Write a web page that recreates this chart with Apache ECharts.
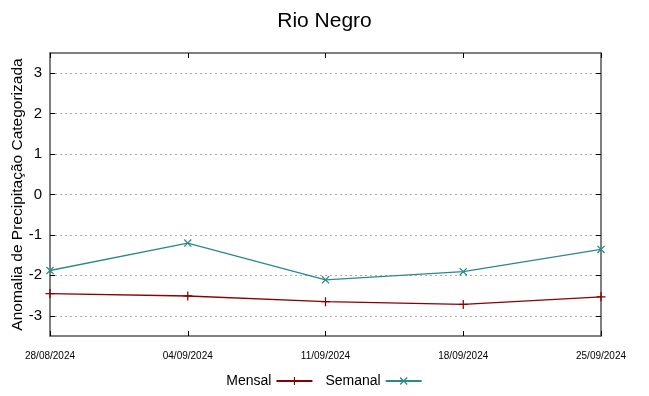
<!DOCTYPE html>
<html><head><meta charset="utf-8">
<script src="https://cdn.jsdelivr.net/npm/echarts@6/dist/echarts.min.js"></script>
<style>html,body{margin:0;padding:0;background:#fff}#c{width:649px;height:396px}</style>
</head><body><div id="c"></div>
<script>
const categories = ['28/08/2024','04/09/2024','11/09/2024','18/09/2024','25/09/2024'];
const mensal = [-2.45, -2.51, -2.65, -2.72, -2.53];
const semanal = [-1.88, -1.20, -2.11, -1.91, -1.36];
const yTicks = [-3,-2,-1,0,1,2,3];

const plusPath = 'path://M4.3,0H5.7V10H4.3Z M0,4.3H10V5.7H0Z';
const xPath = 'path://M0.5,1.5L1.5,0.5L9.5,8.5L8.5,9.5Z M8.5,0.5L9.5,1.5L1.5,9.5L0.5,8.5Z';
const font = 'Liberation Sans, Arial, sans-serif';
const axisCol = '#555';

const yBase = {type:'value', min:-3.5, max:3.5, interval:0.5};
const chart = echarts.init(document.getElementById('c'), null, {renderer:'canvas'});
chart.setOption({
  animation:false,
  backgroundColor:'#fff',
  title:{text:'Rio Negro', left:'center', top:6, textStyle:{fontFamily:font, fontSize:21, fontWeight:'normal', color:'#000'}},
  grid:{left:50, right:48, top:53, bottom:60, show:false, outerBoundsMode:'none', containLabel:false},
  legend:{bottom:3, left:'center', align:'right', itemWidth:36, itemHeight:10, itemGap:12,
    textStyle:{fontFamily:font, fontSize:14, color:'#000'},
    data:[{name:'Mensal'},{name:'Semanal'}]},
  xAxis:[{type:'category', data:categories, boundaryGap:false, position:'bottom',
    axisLine:{onZero:false, lineStyle:{color:axisCol, width:1.5}},
    axisTick:{inside:true, length:5, lineStyle:{color:'#000'}},
    axisLabel:{fontFamily:font, fontSize:10, color:'#000', margin:15, showMinLabel:true, showMaxLabel:true},
    splitLine:{show:false}},
   {type:'category', data:categories, boundaryGap:false, position:'top',
    axisLine:{onZero:false, lineStyle:{color:axisCol, width:1.5}},
    axisTick:{inside:true, length:5, lineStyle:{color:'#000'}},
    axisLabel:{show:false}, splitLine:{show:false}}],
  yAxis:[Object.assign({}, yBase, {position:'left',
    name:'Anomalia de Precipitação Categorizada', nameLocation:'middle', nameGap:24, nameMoveOverlap:false,
    nameTextStyle:{fontFamily:font, fontSize:15.5, color:'#000'},
    axisLine:{show:true, onZero:false, lineStyle:{color:axisCol, width:1.5}},
    axisTick:{show:true, inside:true, length:5, customValues:yTicks, lineStyle:{color:'#000'}},
    axisLabel:{fontFamily:font, fontSize:15, color:'#000', margin:8, customValues:yTicks},
    splitLine:{show:true, lineStyle:{type:[2,3], color:'#aaa', width:1}}}),
   Object.assign({}, yBase, {position:'right',
    axisLine:{show:true, onZero:false, lineStyle:{color:axisCol, width:1.5}},
    axisTick:{show:true, inside:true, length:5, customValues:yTicks, lineStyle:{color:'#000'}},
    axisLabel:{show:false}, splitLine:{show:false}})],
  series:[
    {name:'Mensal', type:'line', data:mensal, symbol:plusPath, symbolSize:9,
      lineStyle:{color:'#8b0000', width:1.3}, itemStyle:{color:'#8b0000'}},
    {name:'Semanal', type:'line', data:semanal, symbol:xPath, symbolSize:8,
      lineStyle:{color:'#2a8a8a', width:1.3}, itemStyle:{color:'#2a8a8a'}}
  ]
});
</script></body></html>
